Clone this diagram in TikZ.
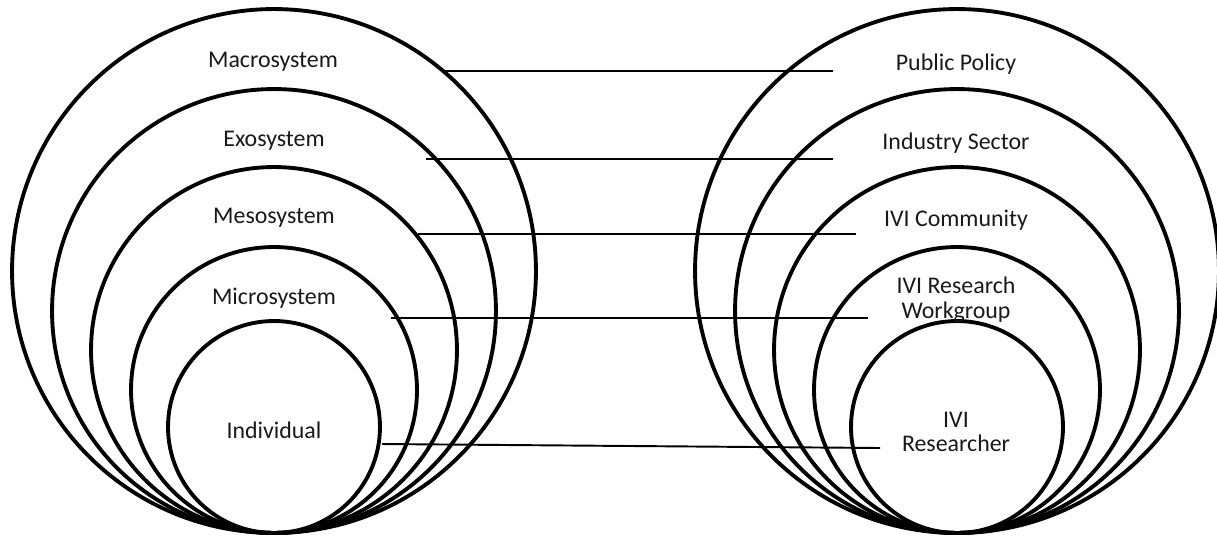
\documentclass[tikz,border=0pt]{standalone}
\usepackage{fontspec}
\setmainfont{Carlito}
\usetikzlibrary{positioning}

\begin{document}
\begin{tikzpicture}[
  x=0.02cm, y=-0.02cm,
  ring/.style={circle, draw=black, line width=2.2pt, inner sep=0pt, outer sep=0pt},
  lbl/.style={font=\fontsize{13.6}{14}\selectfont, text=black!90, align=center, inner sep=1pt},
  link/.style={draw=black, line width=1.1pt},
]

% Frame
\useasboundingbox (0,0) rectangle (1217,535);

% --- Left rings: ecological systems ---
\node[ring, minimum size=10.48cm] (macro) at (274,271) {};
\node[ring, minimum size=8.88cm]  (exo)   at (274,311) {};
\node[ring, minimum size=7.32cm]  (meso)  at (274,350) {};
\node[ring, minimum size=5.72cm]  (micro) at (274,390) {};
\node[ring, minimum size=4.24cm]  (indiv) at (274,427) {};

\node[lbl] (macroT) at (273,62)  {Macrosystem};
\node[lbl] (exoT)   at (274,141) {Exosystem};
\node[lbl] (mesoT)  at (274,218) {Mesosystem};
\node[lbl] (microT) at (274,298) {Microsystem};
\node[lbl] (indivT) at (274,430) {Individual};

% --- Right rings: IVI context ---
\node[ring, minimum size=10.48cm] (policy)    at (957,271) {};
\node[ring, minimum size=8.88cm]  (industry)  at (957,311) {};
\node[ring, minimum size=7.32cm]  (community) at (957,350) {};
\node[ring, minimum size=5.72cm]  (workgroup) at (957,390) {};
\node[ring, minimum size=4.24cm]  (researcher) at (957,427) {};

\node[lbl] (policyT)     at (956,64)  {Public Policy};
\node[lbl] (industryT)   at (956,143) {Industry Sector};
\node[lbl] (communityT)  at (956,220) {IVI Community};
\node[lbl] (workgroupT)  at (956,300) {IVI Research\\Workgroup};
\node[lbl] (researcherT) at (956,432) {IVI\\Researcher};

% Connector ends
\coordinate (macroE) at (444,71);
\coordinate (exoE)   at (426,159);
\coordinate (mesoE)  at (418,234);
\coordinate (microE) at (391,318);
\coordinate (indivE) at (382,444);

\coordinate (policyE)     at (833,71);
\coordinate (industryE)   at (833,159);
\coordinate (communityE)  at (856,234);
\coordinate (workgroupE)  at (868,318);
\coordinate (researcherE) at (880,448);

% Connectors
\draw[link] (macroE) -- (policyE);
\draw[link] (exoE) -- (industryE);
\draw[link] (mesoE) -- (communityE);
\draw[link] (microE) -- (workgroupE);
\draw[link] (indivE) -- (researcherE);

\end{tikzpicture}
\end{document}
